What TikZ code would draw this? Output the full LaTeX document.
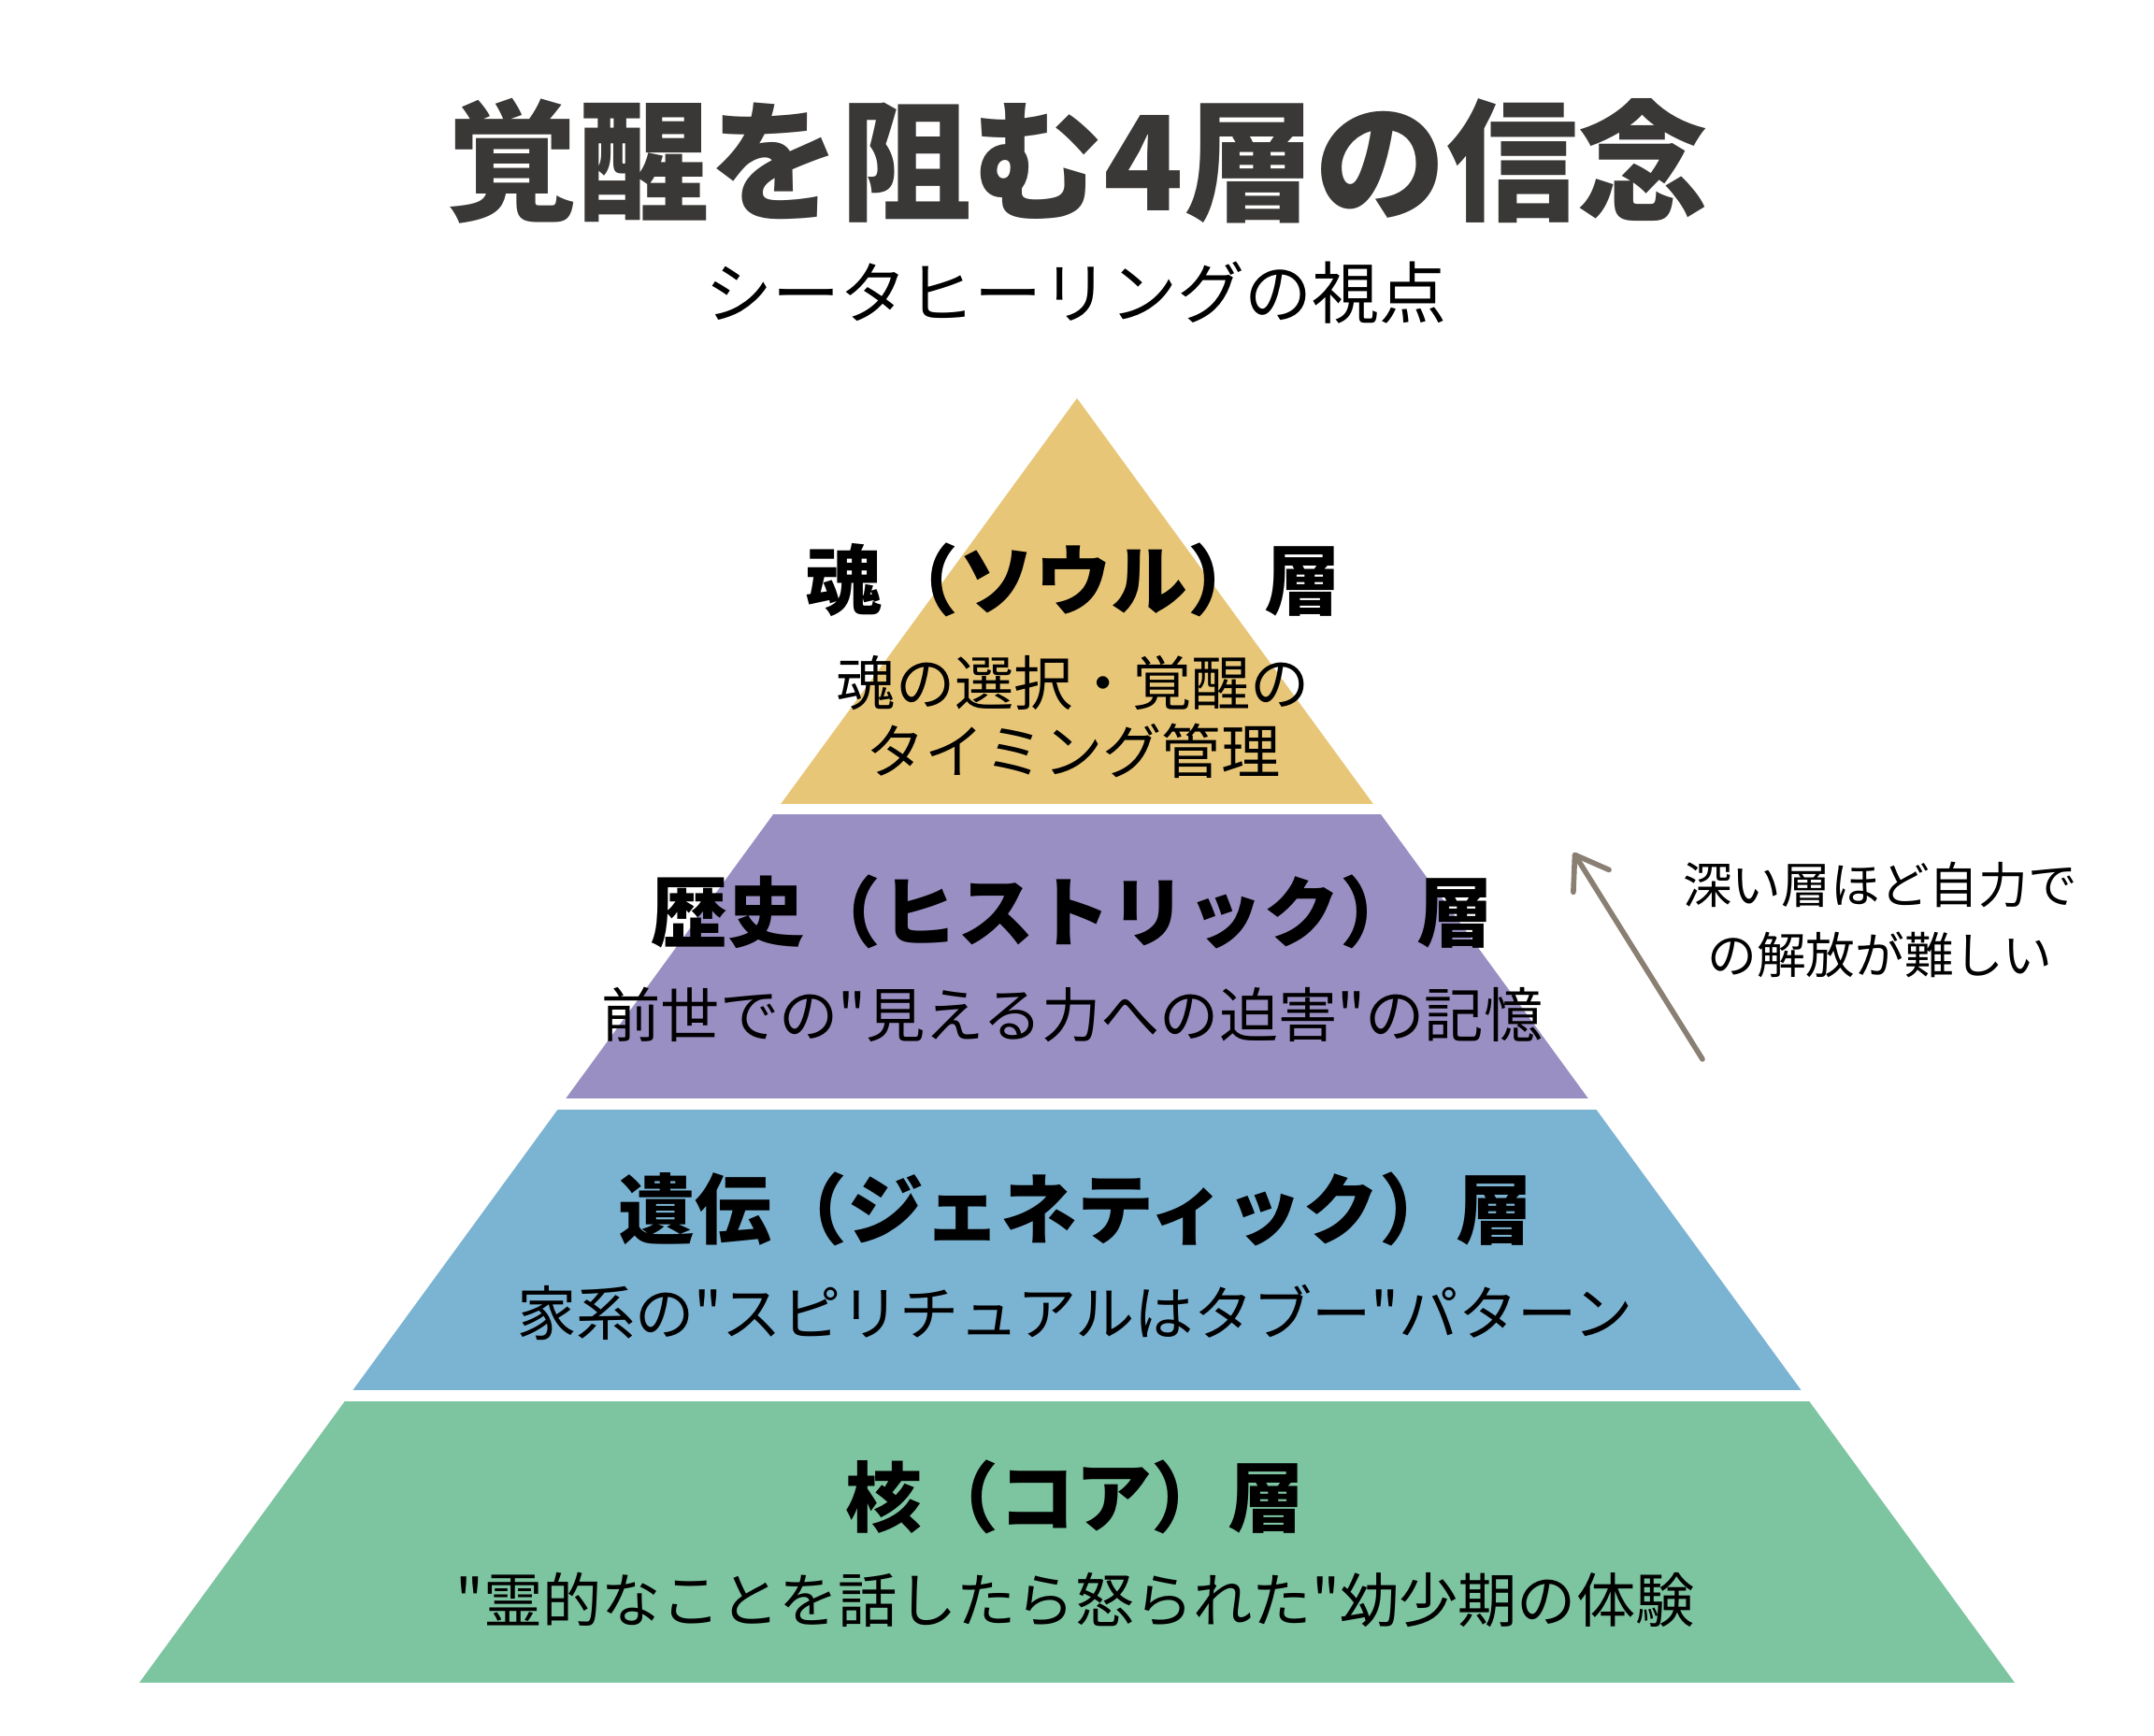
\documentclass[tikz,border=0pt]{standalone}
\usepackage{fontspec}
\setmainfont{Noto Sans CJK JP}
\newfontfamily\jpfont{Noto Sans CJK JP}
\usepackage{tikz}
\usetikzlibrary{positioning}
\usetikzlibrary{arrows.meta}

\definecolor{soulcol}{HTML}{E8C677}
\definecolor{histcol}{HTML}{9A8FC2}
\definecolor{genecol}{HTML}{7BB3D2}
\definecolor{corecol}{HTML}{7DC4A0}
\definecolor{titlecol}{HTML}{3A3836}
\definecolor{arrowcol}{HTML}{8A7F73}

\begin{document}
\begin{tikzpicture}[head/.style={font=\jpfont\bfseries\fontsize{23.3pt}{28pt}\selectfont, inner sep=0pt}, desc/.style={font=\jpfont\fontsize{18pt}{21pt}\selectfont, align=center, inner sep=0pt}]
	\useasboundingbox [fill=white] (0,0) rectangle (23.04,-18.56);
	\coordinate (apex) at (11.52,-4.26);
	\coordinate (base_l) at (1.49,-18.00);
	\coordinate (base_r) at (21.55,-18.00);
	\begin{scope}
		\clip (apex) -- (base_l) -- (base_r) -- cycle;
		\fill [soulcol] (0,-4) rectangle (23.04,-8.60);
		\fill [histcol] (0,-8.71) rectangle (23.04,-11.75);
		\fill [genecol] (0,-11.87) rectangle (23.04,-14.87);
		\fill [corecol] (0,-14.99) rectangle (23.04,-18.00);
	\end{scope}
	\node [font=\jpfont\bfseries\fontsize{40pt}{48pt}\selectfont, text=titlecol, inner sep=0pt] (title) at (11.53,-1.72) {覚醒を阻む4層の信念};
	\node [font=\jpfont\fontsize{20.5pt}{24pt}\selectfont, inner sep=0pt] (sub) at (11.51,-3.13) {シータヒーリングの視点};
	\node [head] (head_0) at (11.48,-6.20) {魂（ソウル）層};
	\node [desc, below=0.4cm of head_0] (desc_0) {魂の選択・覚醒の\\タイミング管理};
	\node [head] (head_1) at (11.47,-9.75) {歴史（ヒストリック）層};
	\node [desc, below=0.4cm of head_1] (desc_1) {前世での"見える力への迫害"の記憶};
	\node [head] (head_2) at (11.50,-12.93) {遺伝（ジェネティック）層};
	\node [desc, below=0.4cm of head_2] (desc_2) {家系の"スピリチュアルはタブー"パターン};
	\node [head] (head_3) at (11.50,-16.01) {核（コア）層};
	\node [desc, below=0.4cm of head_3] (desc_3) {"霊的なことを話したら怒られた"幼少期の体験};
	\node [font=\jpfont\fontsize{15pt}{21.5pt}\selectfont, align=center, inner sep=0pt] (note) at (20.11,-9.84) {深い層ほど自力で\\の解放が難しい};
	\coordinate (arr_tail) at (18.21,-11.33);
	\coordinate (arr_head) at (16.83,-9.12);
	\draw [arrowcol, line width=1.6pt, line cap=round, -{Straight Barb[length=0.33cm, width=0.45cm, round]}] (arr_tail) -- (arr_head);
\end{tikzpicture}
\end{document}
